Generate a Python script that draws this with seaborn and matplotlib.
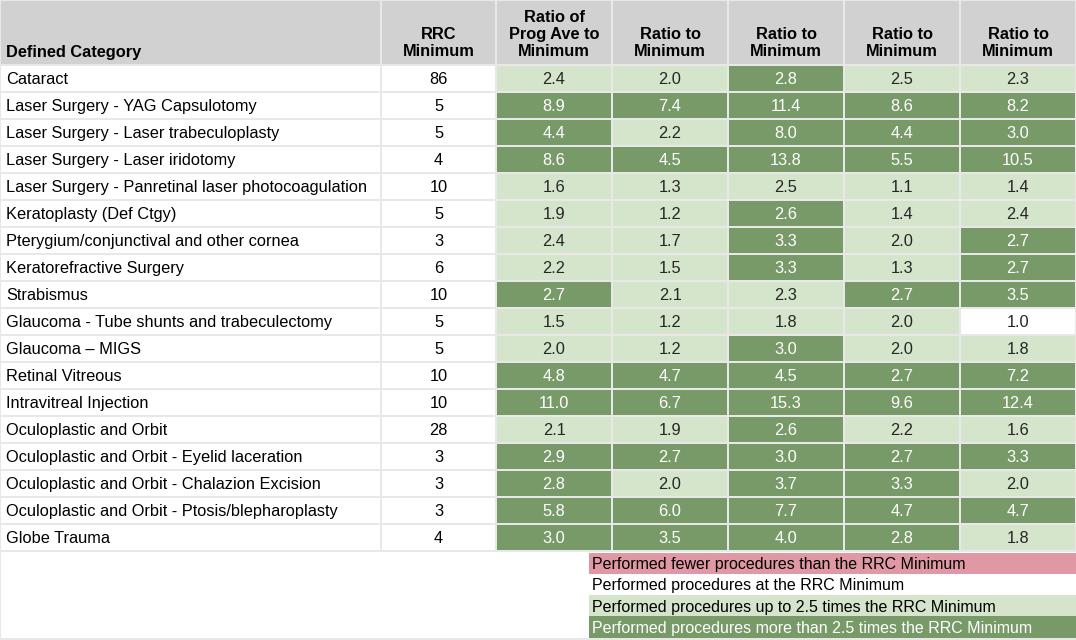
import numpy as np
import pandas as pd
import matplotlib
matplotlib.use("Agg")
import matplotlib.pyplot as plt
from matplotlib.colors import ListedColormap
import seaborn as sns

# ---------------- data ----------------
categories = [
    "Cataract",
    "Laser Surgery - YAG Capsulotomy",
    "Laser Surgery - Laser trabeculoplasty",
    "Laser Surgery - Laser iridotomy",
    "Laser Surgery - Panretinal laser photocoagulation",
    "Keratoplasty (Def Ctgy)",
    "Pterygium/conjunctival and other cornea",
    "Keratorefractive Surgery",
    "Strabismus",
    "Glaucoma - Tube shunts and trabeculectomy",
    "Glaucoma \u2013 MIGS",
    "Retinal Vitreous",
    "Intravitreal Injection",
    "Oculoplastic and Orbit",
    "Oculoplastic and Orbit - Eyelid laceration",
    "Oculoplastic and Orbit - Chalazion Excision",
    "Oculoplastic and Orbit - Ptosis/blepharoplasty",
    "Globe Trauma",
]
rrc_minimum = [86, 5, 5, 4, 10, 5, 3, 6, 10, 5, 5, 10, 10, 28, 3, 3, 3, 4]
ratio_prog_ave = [2.4, 8.9, 4.4, 8.6, 1.6, 1.9, 2.4, 2.2, 2.7, 1.5, 2.0, 4.8, 11.0, 2.1, 2.9, 2.8, 5.8, 3.0]
ratio_a = [2.0, 7.4, 2.2, 4.5, 1.3, 1.2, 1.7, 1.5, 2.1, 1.2, 1.2, 4.7, 6.7, 1.9, 2.7, 2.0, 6.0, 3.5]
ratio_b = [2.8, 11.4, 8.0, 13.8, 2.5, 2.6, 3.3, 3.3, 2.3, 1.8, 3.0, 4.5, 15.3, 2.6, 3.0, 3.7, 7.7, 4.0]
ratio_c = [2.5, 8.6, 4.4, 5.5, 1.1, 1.4, 2.0, 1.3, 2.7, 2.0, 2.0, 2.7, 9.6, 2.2, 2.7, 3.3, 4.7, 2.8]
ratio_d = [2.3, 8.2, 3.0, 10.5, 1.4, 2.4, 2.7, 2.7, 3.5, 1.0, 1.8, 7.2, 12.4, 1.6, 3.3, 2.0, 4.7, 1.8]

header_category = "Defined Category"
header_rrc = "RRC\nMinimum"
ratio_headers = ["Ratio of\nProg Ave to\nMinimum", "Ratio to\nMinimum", "Ratio to\nMinimum",
                 "Ratio to\nMinimum", "Ratio to\nMinimum"]
legend_labels = [
    "Performed fewer procedures than the RRC Minimum",
    "Performed procedures at the RRC Minimum",
    "Performed procedures up to 2.5 times the RRC Minimum",
    "Performed procedures more than 2.5 times the RRC Minimum",
]

# ---------------- style ----------------
GRID = "#e8e8e8"
HEADER = "#d1d1d1"
PINK = "#e098a4"
WHITE = "#ffffff"
LIGHT = "#d4e5cc"
DARK = "#779a68"
FS = 11.8
FS_LEG = 11.5
LW = 1.44  # ~2px at 100 dpi

plt.rcParams["font.family"] = ["Liberation Sans", "DejaVu Sans"]

W, H = 1076, 640
fig = plt.figure(figsize=(W / 100, H / 100), dpi=100, facecolor=GRID)


def box(x0, y0, x1, y1):
    return fig.add_axes([x0 / W, 1 - y1 / H, (x1 - x0) / W, (y1 - y0) / H])


def bare(ax):
    ax.set_xticks([])
    ax.set_yticks([])
    ax.set_xlabel("")
    ax.set_ylabel("")
    for s in ax.spines.values():
        s.set_visible(False)


def status(v):
    if v < 1.0:
        return 0
    if v == 1.0:
        return 1
    if v <= 2.5:
        return 2
    return 3


status_cmap = ListedColormap([PINK, WHITE, LIGHT, DARK])
n = len(categories)

ratios = pd.DataFrame({
    "prog": ratio_prog_ave, "a": ratio_a, "b": ratio_b, "c": ratio_c, "d": ratio_d,
}, index=categories)
status_df = ratios.apply(lambda col: col.map(status))
annot = ratios.apply(lambda col: col.map(lambda v: f"{v:.1f}"))

# column edges (layout)
X_CAT, X_RRC, X_RAT, X_END = 0, 381, 496, 1076
Y_TOP, Y_HEAD, Y_BODY = 0, 64.5, 550.5

# ---------------- header ----------------
for (x0, x1, ncol) in [(X_CAT, X_RRC, 1), (X_RRC, X_RAT, 1), (X_RAT, X_END, 5)]:
    ax = box(x0, Y_TOP, x1, Y_HEAD)
    sns.heatmap(np.zeros((1, ncol)), ax=ax, cmap=ListedColormap([HEADER]), cbar=False,
                linewidths=LW, linecolor=GRID, xticklabels=False, yticklabels=False)
    bare(ax)
    ybot = 1 - 5 / (Y_HEAD - Y_TOP)
    if ncol == 1 and x0 == X_CAT:
        ax.text(6 / (x1 - x0), ybot, header_category, ha="left", va="bottom",
                fontsize=FS, fontweight="bold")
    elif ncol == 1:
        ax.text(0.5, ybot, header_rrc, ha="center", va="bottom", fontsize=FS,
                fontweight="bold", linespacing=1.2)
    else:
        for j, h in enumerate(ratio_headers):
            ax.text(j + 0.5, ybot, h, ha="center", va="bottom", fontsize=FS,
                    fontweight="bold", linespacing=1.2)

# ---------------- body ----------------
ax_cat = box(X_CAT, Y_HEAD, X_RRC, Y_BODY)
sns.heatmap(np.zeros((n, 1)), ax=ax_cat, cmap=ListedColormap([WHITE]), cbar=False,
            linewidths=LW, linecolor=GRID, xticklabels=False, yticklabels=False)
bare(ax_cat)
for i, c in enumerate(categories):
    ax_cat.text(6 / (X_RRC - X_CAT), i + 0.5, c, ha="left", va="center_baseline", fontsize=FS)

ax_rrc = box(X_RRC, Y_HEAD, X_RAT, Y_BODY)
sns.heatmap(pd.DataFrame({"rrc": rrc_minimum}, index=categories) * 0, ax=ax_rrc,
            cmap=ListedColormap([WHITE]), cbar=False, linewidths=LW, linecolor=GRID,
            annot=np.array([[str(v)] for v in rrc_minimum]), fmt="",
            annot_kws={"fontsize": FS, "color": "black", "va": "center_baseline"},
            xticklabels=False, yticklabels=False)
bare(ax_rrc)

ax_rat = box(X_RAT, Y_HEAD, X_END, Y_BODY)
sns.heatmap(status_df, ax=ax_rat, cmap=status_cmap, vmin=-0.5, vmax=3.5, cbar=False,
            linewidths=LW, linecolor=GRID, annot=annot.values, fmt="",
            annot_kws={"fontsize": FS, "va": "center_baseline"},
            xticklabels=False, yticklabels=False)
bare(ax_rat)

# ---------------- legend area ----------------
ax_bg = box(1, Y_BODY + 1.5, X_END, 638)
ax_bg.set_facecolor(WHITE)
bare(ax_bg)

ax_leg = box(589, 552.5, X_END, 637.5)
sns.heatmap(np.arange(4).reshape(4, 1), ax=ax_leg, cmap=status_cmap, vmin=-0.5, vmax=3.5,
            cbar=False, linewidths=0, xticklabels=False, yticklabels=False)
bare(ax_leg)
for i, lab in enumerate(legend_labels):
    ax_leg.text(3 / (X_END - 589), i + 0.5, lab, ha="left", va="center_baseline",
                fontsize=FS_LEG, color="white" if i == 3 else "black")

fig.savefig("out.png", dpi=100, facecolor=GRID)
